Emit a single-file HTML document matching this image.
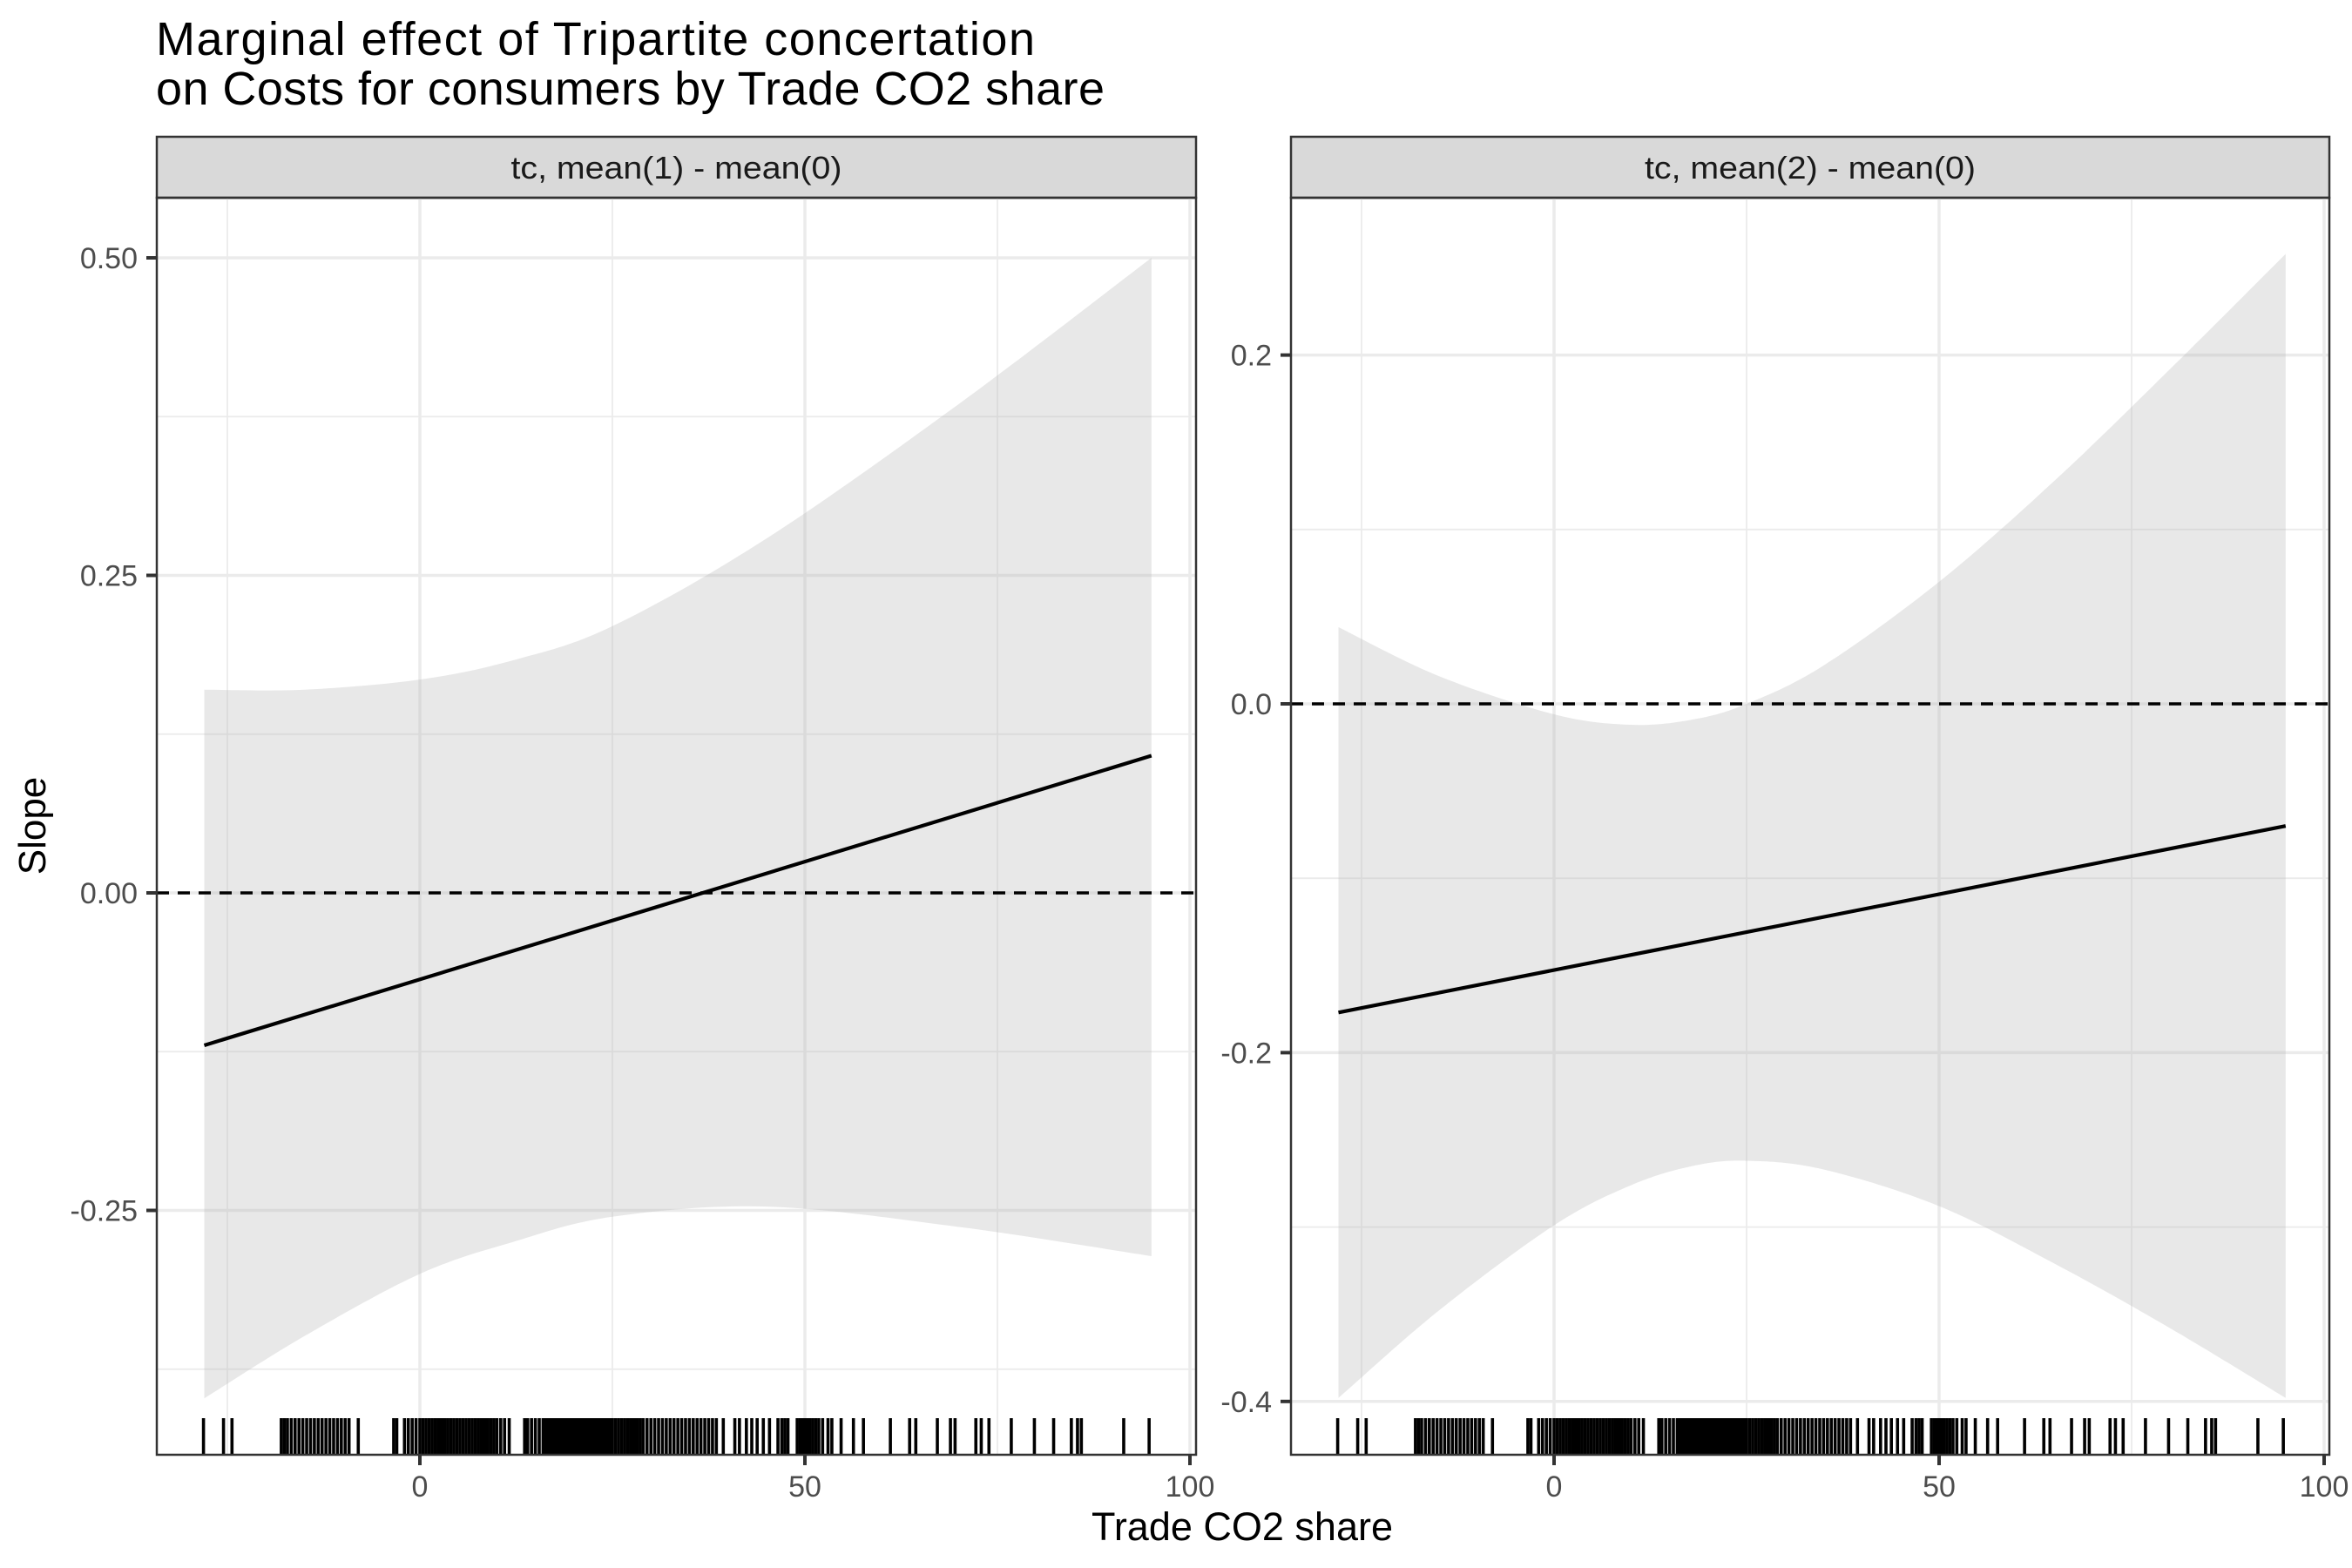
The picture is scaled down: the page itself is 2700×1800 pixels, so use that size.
<!DOCTYPE html>
<html><head><meta charset="utf-8"><style>
html,body{margin:0;padding:0;background:#fff;}
svg{display:block;font-family:"Liberation Sans",Arial,sans-serif;}
</style></head><body>
<svg id="chart" width="2700" height="1800" viewBox="0 0 2700 1800" xmlns="http://www.w3.org/2000/svg">
<rect x="0" y="0" width="2700" height="1800" fill="#fff"/>
<text x="179" y="63" font-size="54" fill="#000" textLength="1009">Marginal effect of Tripartite concertation</text>
<text x="179" y="120" font-size="54" fill="#000" textLength="1089">on Costs for consumers by Trade CO2 share</text>
<text x="1426" y="1768" font-size="45" text-anchor="middle" fill="#000">Trade CO2 share</text>
<text transform="translate(52,948) rotate(-90)" font-size="44" text-anchor="middle" fill="#000">Slope</text>
<g id="panels"></g>
</svg>
<script>
// shared data
const rugX = [-28.1,-25.5,-24.4,-18,-17.6,-17.2,-16.7,-16.2,-15.7,-15.2,-14.7,-14.2,-13.7,-13.2,-12.7,-12.2,-11.7,-11.2,-10.7,-10.2,-9.7,-9.2,-8,
-3.4,-3,-2,-1.5,-1,-0.5,0,0.4,0.8,1.2,1.6,2,2.4,2.8,3.2,3.6,4,4.4,4.8,5.2,5.6,6,6.4,6.8,7.2,7.6,8,8.4,8.8,9.2,9.6,10,10.5,11,11.6,
13.6,14,14.5,15,15.5,16,16.3,16.6,16.9,17.2,17.5,17.8,18.1,18.4,18.7,19,19.3,19.6,19.9,20.2,20.5,20.8,21.1,21.4,21.7,22,22.3,22.6,22.9,23.2,23.5,23.8,24.1,24.4,24.7,25,25.4,25.8,26.2,26.6,27,27.4,27.8,28.2,28.6,29,29.5,30,30.5,31,31.5,32,32.5,33,33.5,34,34.5,35,35.5,36,36.5,37,37.5,38,38.5,39.4,
40.9,41.5,42.4,43.1,43.8,44.6,45.4,46.5,47,47.4,47.8,49,49.4,49.8,50.2,50.6,51,51.4,51.8,52.3,53,53.5,54.7,56.3,57.6,61.1,63.6,64.4,67.2,68.9,69.5,72.2,72.9,73.9,76.8,79.8,82.3,84.6,85.4,85.9,91.4,94.7];
// panel 1
const p1Label = "tc, mean(1) - mean(0)";
const p1LineX = [-28, 95];
const p1LineY = [-0.12, 0.108];
const p1RibX = [-28,-15,0,12,25,45,70,95];
const p1Upper = [0.16,0.16,0.168,0.183,0.21,0.279,0.385,0.50];
const p1Lower = [-0.398,-0.349,-0.30,-0.275,-0.255,-0.247,-0.263,-0.286];
const p1YTicks = [0.5,0.25,0,-0.25];
const p1YTickLabels = ["0.50","0.25","0.00","-0.25"];
const p1YMinor = [0.375,0.125,-0.125,-0.375];
// panel 2
const p2Label = "tc, mean(2) - mean(0)";
const p2LineX = [-28, 95];
const p2LineY = [-0.177, -0.070];
const p2RibX = [-28,-15,0,10,18,25,35,50,65,80,95];
const p2Upper = [0.044,0.016,-0.006,-0.012,-0.009,0.0,0.022,0.070,0.128,0.192,0.258];
const p2Lower = [-0.398,-0.348,-0.299,-0.276,-0.265,-0.262,-0.267,-0.288,-0.321,-0.358,-0.398];
const p2YTicks = [0.2,0,-0.2,-0.4];
const p2YTickLabels = ["0.2","0.0","-0.2","-0.4"];
const p2YMinor = [0.1,-0.1,-0.3];
// shared x axis
const xTicks = [0,50,100];
const xTickLabels = ["0","50","100"];
const xMinor = [-25,25,75];

const NS="http://www.w3.org/2000/svg";
const root=document.getElementById('panels');
function mk(tag,attrs,parent){const e=document.createElementNS(NS,tag);for(const k in attrs)e.setAttribute(k,attrs[k]);(parent||root).appendChild(e);return e;}
function smooth(pts){
  const out=[];
  for(let i=0;i<pts.length-1;i++){
    const p0=pts[Math.max(i-1,0)],p1=pts[i],p2=pts[i+1],p3=pts[Math.min(i+2,pts.length-1)];
    for(let t=0;t<1;t+=0.05){
      const t2=t*t,t3=t2*t;
      const f=(a,b,c,d)=>0.5*((2*b)+(-a+c)*t+(2*a-5*b+4*c-d)*t2+(-a+3*b-3*c+d)*t3);
      out.push([f(p0[0],p1[0],p2[0],p3[0]),f(p0[1],p1[1],p2[1],p3[1])]);
    }
  }
  out.push(pts[pts.length-1]);return out;
}
function panel(cfg){
  const g=mk('g',{});
  
  
  const L=cfg.left,R=cfg.right,T=227,B=1670;
  const xs=v=>cfg.x0+(v)*8.84;
  const ys=v=>cfg.yZero-v*cfg.yScale;
  const strip=mk('rect',{x:L,y:157,width:R-L,height:70,fill:'#d9d9d9',stroke:'#333','stroke-width':2.5},g);
  
  
  const st=mk('text',{x:(L+R)/2,y:205,'font-size':36,'text-anchor':'middle',fill:'#1a1a1a',textLength:380,lengthAdjust:'spacingAndGlyphs'},g);
  st.textContent=cfg.label;
  
  
  const clipId='clip'+cfg.name;
  const cp=mk('clipPath',{id:clipId},g);mk('rect',{x:L,y:T,width:R-L,height:B-T},cp);
  const pg=mk('g',{'clip-path':'url(#'+clipId+')'},g);
  xMinor.forEach(v=>{const l=mk('line',{x1:xs(v),x2:xs(v),y1:T,y2:B,stroke:'#ebebeb','stroke-width':1.8},pg);});
  cfg.yMinor.forEach(v=>{const l=mk('line',{x1:L,x2:R,y1:ys(v),y2:ys(v),stroke:'#ebebeb','stroke-width':1.8},pg);});
  xTicks.forEach(v=>{const l=mk('line',{x1:xs(v),x2:xs(v),y1:T,y2:B,stroke:'#ebebeb','stroke-width':3.5},pg);});
  cfg.yTicks.forEach(v=>{const l=mk('line',{x1:L,x2:R,y1:ys(v),y2:ys(v),stroke:'#ebebeb','stroke-width':3.5},pg);});
  const up=smooth(cfg.ribX.map((x,i)=>[xs(x),ys(cfg.upper[i])]));
  const lo=smooth(cfg.ribX.map((x,i)=>[xs(x),ys(cfg.lower[i])])).reverse();
  const d='M'+up.concat(lo).map(p=>p[0].toFixed(1)+','+p[1].toFixed(1)).join('L')+'Z';
  const rib=mk('path',{d:d,fill:'#b3b3b3','fill-opacity':0.3},pg);
  
  
  const zl=mk('line',{x1:L,x2:R,y1:ys(0),y2:ys(0),stroke:'#000','stroke-width':3.6,'stroke-dasharray':'14 10'},pg);
  
  
  const ln=mk('line',{x1:xs(cfg.lineX[0]),y1:ys(cfg.lineY[0]),x2:xs(cfg.lineX[1]),y2:ys(cfg.lineY[1]),stroke:'#000','stroke-width':4.2},pg);
  
  
  rugX.forEach(v=>{const r=mk('line',{x1:xs(v),x2:xs(v),y1:1628,y2:B,stroke:'#000','stroke-width':3.6},pg);});
  const bd=mk('rect',{x:L,y:T,width:R-L,height:B-T,fill:'none',stroke:'#333','stroke-width':2.5},g);
  
  
  cfg.yTicks.forEach((v,i)=>{
    mk('line',{x1:L-12,x2:L,y1:ys(v),y2:ys(v),stroke:'#333','stroke-width':4},g);
    const t=mk('text',{x:L-22,y:ys(v)+12,'font-size':34,'text-anchor':'end',fill:'#4d4d4d'},g);
    t.textContent=cfg.yLabels[i];
    
    
  });
  xTicks.forEach((v,i)=>{
    mk('line',{x1:xs(v),x2:xs(v),y1:B,y2:B+12,stroke:'#333','stroke-width':4},g);
    const t=mk('text',{x:xs(v),y:1718,'font-size':34,'text-anchor':'middle',fill:'#4d4d4d'},g);
    t.textContent=xTickLabels[i];
    
    
  });
}
panel({name:'panel-mean1',left:180,right:1373,x0:482,yZero:1025,yScale:1458,label:p1Label,lineX:p1LineX,lineY:p1LineY,ribX:p1RibX,upper:p1Upper,lower:p1Lower,yTicks:p1YTicks,yLabels:p1YTickLabels,yMinor:p1YMinor});
panel({name:'panel-mean2',left:1482,right:2674,x0:1784,yZero:808,yScale:2002,label:p2Label,lineX:p2LineX,lineY:p2LineY,ribX:p2RibX,upper:p2Upper,lower:p2Lower,yTicks:p2YTicks,yLabels:p2YTickLabels,yMinor:p2YMinor});
</script>
</body></html>
